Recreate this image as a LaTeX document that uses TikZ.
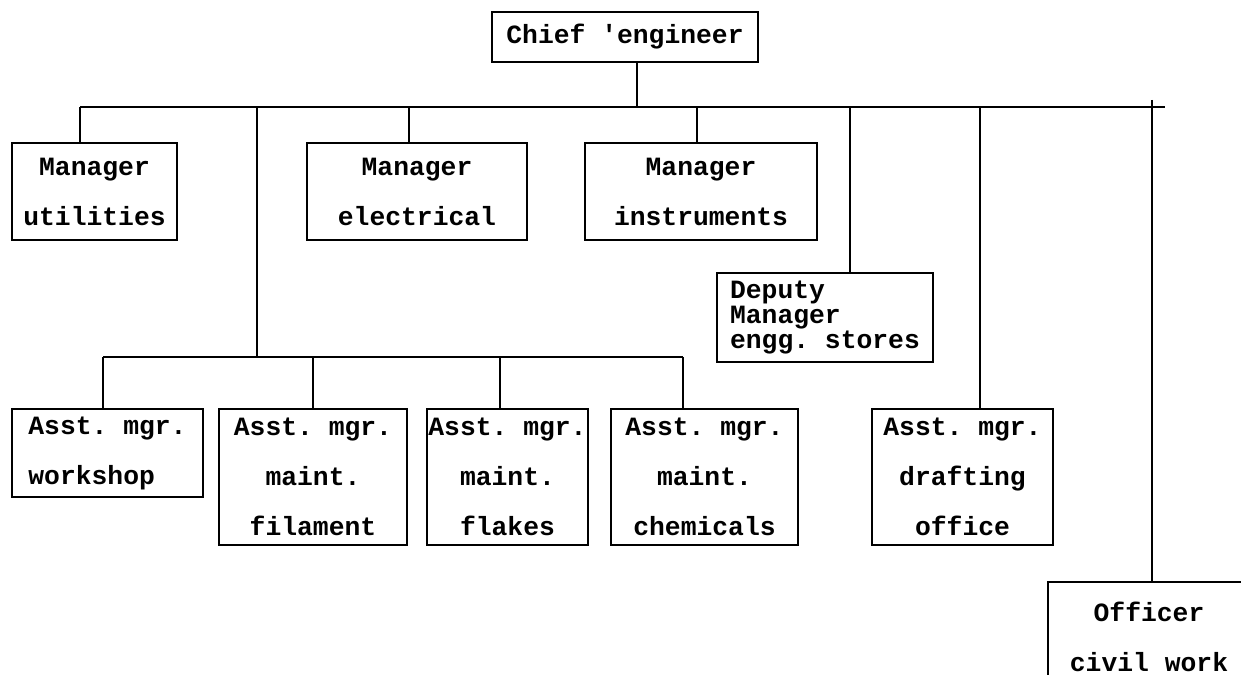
\documentclass[tikz,border=0pt]{standalone}
\usepackage{fontspec}
\setmonofont{Liberation Mono}

\begin{document}
\begin{tikzpicture}[
    x=0.02cm, y=-0.02cm,
    box/.style={draw, line width=1.2pt, inner sep=0pt, align=center,
                font=\ttfamily\bfseries\fontsize{15}{28.5}\selectfont},
    tightbox/.style={box, align=left, font=\ttfamily\bfseries\fontsize{15}{14.5}\selectfont},
    link/.style={line width=1.3pt},
]
\useasboundingbox (0,0) rectangle (1241,675);
\clip (0,0) rectangle (1241,675);

% top
\node[box, minimum width=5.32cm, minimum height=1cm] (chief) at (625,37) {Chief 'engineer};

% managers
\node[box, minimum width=3.3cm, minimum height=1.94cm] (util) at (94.5,191.5) {Manager\\utilities};
\node[box, minimum width=4.4cm, minimum height=1.94cm] (elec) at (417,191.5) {Manager\\electrical};
\node[box, minimum width=4.64cm, minimum height=1.94cm] (inst) at (701,191.5) {Manager\\instruments};
\node[tightbox, minimum width=4.32cm, minimum height=1.78cm] (dep) at (825,317.5) {Deputy\\Manager\\engg. stores};

% assistant managers
\node[box, align=left, minimum width=3.82cm, minimum height=1.76cm] (work) at (107.5,453) {Asst. mgr.\\workshop};
\node[box, minimum width=3.76cm, minimum height=2.72cm] (fil) at (313,477) {Asst. mgr.\\maint.\\filament};
\node[box, minimum width=3.22cm, minimum height=2.72cm] (flk) at (507.5,477) {Asst. mgr.\\maint.\\flakes};
\node[box, minimum width=3.74cm, minimum height=2.72cm] (chem) at (704.5,477) {Asst. mgr.\\maint.\\chemicals};
\node[box, minimum width=3.62cm, minimum height=2.72cm] (draft) at (962.5,477) {Asst. mgr.\\drafting\\office};
\node[box, minimum width=4.04cm, minimum height=2.2cm] (off) at (1149,637) {Officer\\civil work};

% main bus
\coordinate (busL) at (80,107);
\coordinate (busR) at (1165,107);
\coordinate (jChief) at (637,107);
\coordinate (jMaint) at (257,107);
\coordinate (jElec) at (409,107);
\coordinate (jInst) at (697,107);
\coordinate (jDep) at (850,107);
\coordinate (jDraft) at (980,107);
\coordinate (jOff) at (1152,100);

\draw[link] (busL) -- (busR);
\draw[link] (chief.south -| jChief) -- (jChief);
\draw[link] (busL) -- (util.north -| busL);
\draw[link] (jElec) -- (elec.north -| jElec);
\draw[link] (jInst) -- (inst.north -| jInst);
\draw[link] (jDep) -- (dep.north -| jDep);
\draw[link] (jDraft) -- (draft.north -| jDraft);
\draw[link] (jOff) -- (off.north -| jOff);

% maintenance bus
\coordinate (subL) at (103,357);
\coordinate (subR) at (683,357);
\coordinate (jFil) at (313,357);
\coordinate (jFlk) at (500,357);

\draw[link] (jMaint) -- (jMaint |- subL);
\draw[link] (subL) -- (subR);
\draw[link] (subL) -- (work.north -| subL);
\draw[link] (jFil) -- (fil.north -| jFil);
\draw[link] (jFlk) -- (flk.north -| jFlk);
\draw[link] (subR) -- (chem.north -| subR);

\end{tikzpicture}
\end{document}
